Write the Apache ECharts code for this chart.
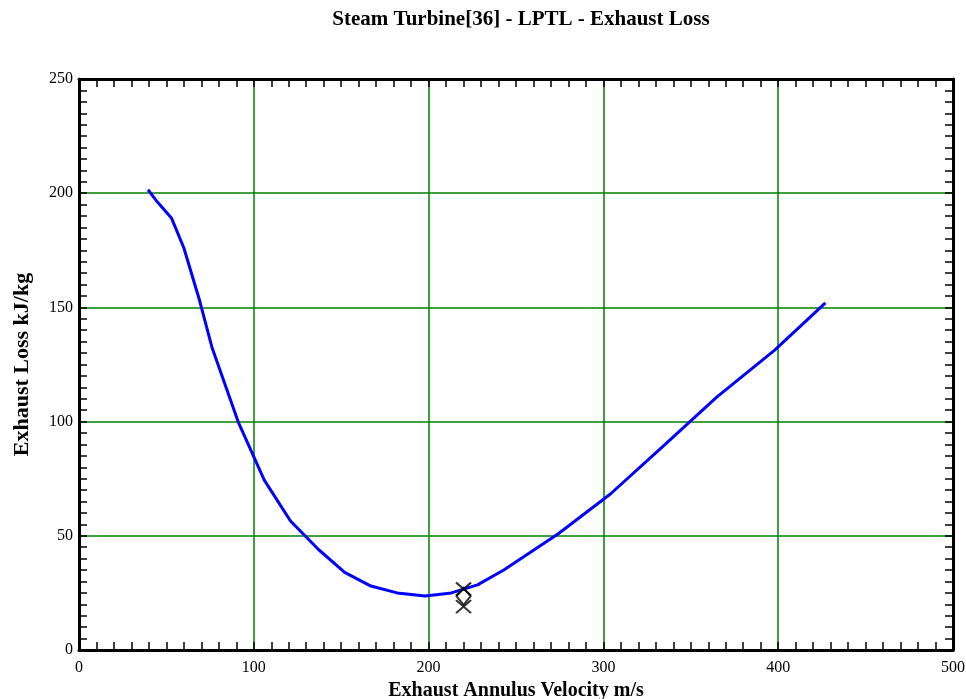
<!DOCTYPE html>
<html>
<head>
<meta charset="utf-8">
<script src="https://cdn.jsdelivr.net/npm/echarts@6/dist/echarts.min.js"></script>
<style>html,body{margin:0;padding:0;background:#fff}#c{width:966px;height:699px}</style>
</head>
<body>
<div id="c"></div>
<script>
var velocity = [39.5, 45, 53, 60, 69, 76, 91, 106, 121, 137, 152, 167, 182, 198, 213, 228, 243, 274, 304, 335, 365, 398, 427];
var exhaustLoss = [201.5, 196, 189, 176, 153, 132.7, 100, 74.4, 56.5, 44, 34, 28, 25, 23.6, 25, 28.5, 35, 50.8, 68.3, 89.8, 110.8, 131.3, 152];
var crossPoints = [[220, 26.7], [220, 19]];
var diamondPoints = [[220, 23.5]];
var titleText = 'Steam Turbine[36] - LPTL - Exhaust Loss';
var xName = 'Exhaust Annulus Velocity m/s';
var yName = 'Exhaust Loss kJ/kg';

var serif = '"Liberation Serif","DejaVu Serif",serif';
var lineData = velocity.map(function (v, i) { return [v, exhaustLoss[i]]; });

function axisCommon(show) {
  return {
    axisLine: { show: true, onZero: false, lineStyle: { color: '#000', width: 3 } },
    axisTick: { show: true, inside: true, length: 8, lineStyle: { color: '#000', width: 1.5 } },
    minorTick: { show: true, splitNumber: 10, length: 8, lineStyle: { color: '#000', width: 1.5 } },
    axisLabel: { show: show, color: '#000', fontFamily: serif, fontSize: 16 },
    splitLine: { show: false }
  };
}

var xBottom = Object.assign(axisCommon(true), {
  type: 'value', min: 0, max: 500, interval: 100, position: 'bottom',
  name: xName, nameLocation: 'middle', nameGap: 30,
  nameTextStyle: { color: '#000', fontFamily: serif, fontSize: 20, fontWeight: 'bold' },
  splitLine: { show: true, lineStyle: { color: '#008000', width: 1.5 } }
});
xBottom.axisLabel.margin = 10;
var xTop = Object.assign(axisCommon(false), {
  type: 'value', min: 0, max: 500, interval: 100, position: 'top'
});
var yLeft = Object.assign(axisCommon(true), {
  type: 'value', min: 0, max: 250, interval: 50, position: 'left',
  name: yName, nameLocation: 'middle', nameGap: 46,
  nameTextStyle: { color: '#000', fontFamily: serif, fontSize: 22, fontWeight: 'bold' },
  splitLine: { show: true, lineStyle: { color: '#008000', width: 1.5 } }
});
yLeft.axisLabel.margin = 6;
var yRight = Object.assign(axisCommon(false), {
  type: 'value', min: 0, max: 250, interval: 50, position: 'right'
});

var chart = echarts.init(document.getElementById('c'), null, { renderer: 'canvas' });
chart.setOption({
  backgroundColor: '#fff',
  animation: false,
  title: {
    text: titleText, left: 516, top: 4, textAlign: 'center',
    textStyle: { color: '#000', fontFamily: serif, fontSize: 21, fontWeight: 'bold' }
  },
  grid: { left: 79, right: 13, top: 79, bottom: 49, containLabel: false, outerBoundsMode: 'none' },
  xAxis: [xBottom, xTop],
  yAxis: [yLeft, yRight],
  series: [
    {
      type: 'line', data: lineData, xAxisIndex: 0, yAxisIndex: 0,
      showSymbol: false, symbol: 'none',
      lineStyle: { color: '#0000ff', width: 3 }, z: 3
    },
    {
      type: 'scatter', data: crossPoints, xAxisIndex: 0, yAxisIndex: 0,
      symbol: 'path://M0,0L10,10M10,0L0,10', symbolSize: [15, 13],
      itemStyle: { color: 'none', borderColor: '#000', borderWidth: 2 }, z: 4
    },
    {
      type: 'scatter', data: diamondPoints, xAxisIndex: 0, yAxisIndex: 0,
      symbol: 'diamond', symbolSize: [14, 17],
      itemStyle: { color: 'rgba(0,0,0,0)', borderColor: '#000', borderWidth: 2 }, z: 4
    }
  ]
});
</script>
</body>
</html>
